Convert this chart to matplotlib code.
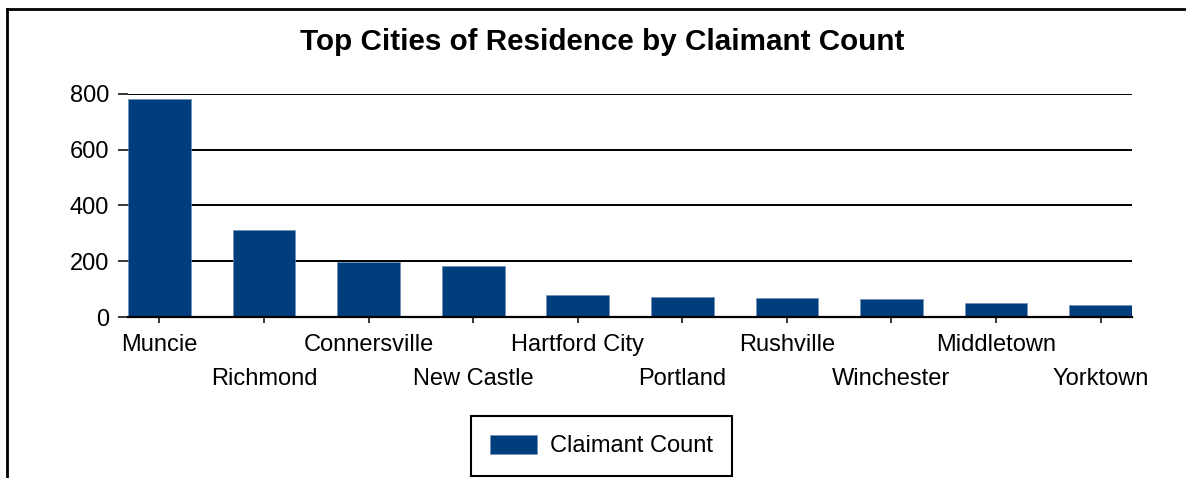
import matplotlib.pyplot as plt
from matplotlib.lines import Line2D

# data
cities = ["Muncie", "Richmond", "Connersville", "New Castle", "Hartford City",
          "Portland", "Rushville", "Winchester", "Middletown", "Yorktown"]
counts = [782, 313, 198, 183, 79, 71, 68, 63, 50, 44]
yticks = [0, 200, 400, 600, 800]

plt.rcParams['font.family'] = ['Liberation Sans', 'DejaVu Sans']

W, H = 1186, 478
fig = plt.figure(figsize=(W / 100, H / 100), dpi=100)
ax = fig.add_axes([128 / W, 1 - 317 / H, (1132 - 128) / W, (317 - 94) / H])

x = range(len(cities))
ax.bar(x, counts, width=0.6, color="#003d7c", edgecolor="#6f8fb5",
       linewidth=0.5, zorder=3, label="Claimant Count")

ax.set_xlim(-0.3, len(cities) - 0.7)
ax.set_ylim(0, 800)
ax.set_yticks(yticks)
ax.yaxis.grid(True, color="black", linewidth=1.4, zorder=0)
ax.set_axisbelow(True)

for side in ["left", "right", "top"]:
    ax.spines[side].set_visible(False)
ax.spines["bottom"].set_linewidth(1.6)
ax.spines["bottom"].set_zorder(4)

ax.set_xticks(list(x))
ax.set_xticklabels(cities)
ax.tick_params(axis="y", length=7.5, width=1.1, pad=6, labelsize=17)
ax.tick_params(axis="x", length=4, width=1.1, pad=8, labelsize=17)
for tick in ax.xaxis.get_major_ticks()[1::2]:
    tick.set_pad(32.5)

fig.text(0.508, 1 - 42 / H, "Top Cities of Residence by Claimant Count",
         ha="center", va="center", fontsize=21.3, fontweight="bold")

leg = fig.legend(loc="center", bbox_to_anchor=(601.5 / W, 1 - 446 / H),
                 fontsize=17, fancybox=False, framealpha=1,
                 handlelength=2.0, handleheight=0.9, borderpad=0.8,
                 handletextpad=0.55, borderaxespad=0)
leg.get_frame().set_edgecolor("black")
leg.get_frame().set_linewidth(1.5)

# outer frame: top and left edges only
fig.add_artist(Line2D([7 / W, 1], [1 - 9 / H, 1 - 9 / H], color="black", linewidth=2))
fig.add_artist(Line2D([7 / W, 7 / W], [0, 1 - 9 / H], color="black", linewidth=2))

fig.savefig("out.png", dpi=100)
